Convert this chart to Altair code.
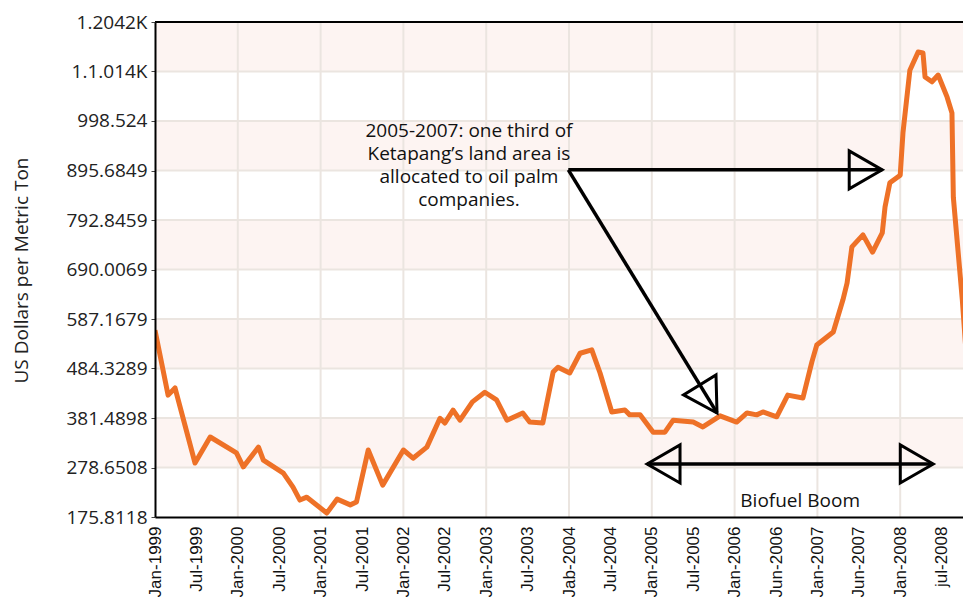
import altair as alt
import pandas as pd

# ---- data ----
months = [0, 1.9, 2.9, 5.8, 8, 11.8, 12.8, 15, 15.7, 18.6, 20, 21, 22, 24.9, 26.4, 28.3,
          29.2, 30.9, 33, 36, 37.4, 39.4, 41.3, 42, 43.2, 44.2, 46, 47.8, 49.5, 51, 53.3,
          54.3, 56.2, 57.7, 58.4, 60.1, 61.6, 63.3, 64.5, 66.2, 68.1, 68.8, 70.3, 72.2,
          73.9, 75.1, 78, 79.4, 81.9, 84.3, 85.8, 87.2, 88.1, 90.1, 91.7, 93.9, 95.2, 95.9,
          98.3, 99.7, 100.3, 101, 102.6, 104, 105.4, 105.8, 106.5, 108, 108.4, 109.4, 110.6,
          111.3, 111.6, 112.6, 113.5, 114.8, 115.5, 115.7, 117, 117.7, 118.5]
prices = [564, 429, 444, 288, 342, 309, 280, 321, 294, 267, 238, 211, 217, 184, 213, 201,
          207, 315, 242, 315, 298, 321, 381, 371, 398, 377, 415, 435, 419, 377, 392,
          373, 371, 477, 487, 475, 516, 523, 475, 394, 398, 388, 388, 352,
          352, 377, 373, 363, 386, 373, 392, 388, 394, 384, 429, 423, 498, 533,
          560, 627, 662, 737, 762, 726, 766, 820, 870, 886, 974, 1104, 1142,
          1140, 1090, 1080, 1094, 1048, 1015, 840, 627, 487, 430]

y_ticks = [175.8118, 278.6508, 381.4898, 484.3289, 587.1679, 690.0069, 792.8459,
           895.6849, 998.5240, 1101.3630, 1204.2020]
y_labels = ["175.8118", "278.6508", "381.4898", "484.3289", "587.1679", "690.0069",
            "792.8459", "895.6849", "998.524", "1.1.014K", "1.2042K"]
x_ticks = list(range(0, 115, 6))
x_labels = ["Jan-1999", "Jul-1999", "Jan-2000", "Jul-2000", "Jan-2001", "Jul-2001",
            "Jan-2002", "Jul-2002", "Jan-2003", "Jul-2003", "Jab-2004", "Jul-2004",
            "Jan-2005", "Jul-2005", "Jan-2006", "Jun-2006", "Jan-2007", "Jun-2007",
            "Jan-2008", "jul-2008"]
year_grid = [12, 24, 36, 48, 60, 72, 84, 96, 108]
band_lo = [278.6508, 484.3289, 690.0069, 895.6849, 1101.3630]
band_hi = [381.4898, 587.1679, 792.8459, 998.5240, 1204.2020]

# annotation arrows (data coordinates)
shaft_x = [59.9, 59.9, 71.3]
shaft_y = [897, 897, 286]
shaft_x2 = [105.4, 81.45, 112.75]
shaft_y2 = [897, 392, 286]
head_x = [103.0, 80.2, 73.7, 110.4]
head_y = [897, 421, 286, 286]
head_shape = ["triangle-right", "triangle-right", "triangle-left", "triangle-right"]
head_angle = [0, 58.5, 0, 0]

note_text = ["2005-2007: one third of\nKetapang\u2019s land area is\nallocated to oil palm\ncompanies.",
             "Biofuel Boom"]
note_x = [45.5, 93.5]
note_y = [977, 210]

# ---- chart ----
xs = alt.Scale(domain=[0, 117.1], nice=False, zero=False)
ys = alt.Scale(domain=[175.8118, 1204.2020], nice=False, zero=False)

ylab_expr = "[" + ",".join("'%s'" % l for l in y_labels) + "][round((datum.value - 175.8118) / 102.839)]"
xlab_expr = "[" + ",".join("'%s'" % l for l in x_labels) + "][round(datum.value / 6)]"

x_axis = alt.Axis(values=x_ticks, labelExpr=xlab_expr, labelAngle=-90,
                  labelAlign="right", labelBaseline="middle", ticks=False,
                  labelPadding=9, labelFont="Liberation Sans", labelFontSize=17,
                  labelColor="#111", domainColor="black", domainWidth=2,
                  grid=False, title=None, labelOverlap=False, labelFlush=False,
                  zindex=1)
y_axis = alt.Axis(values=y_ticks, labelExpr=ylab_expr, tickSize=4,
                  tickColor="#444", tickWidth=1, labelPadding=4,
                  labelFont="Open Sans", labelFontSize=19, labelColor="#222",
                  domainColor="black", domainWidth=2, grid=False,
                  title="US Dollars per Metric Ton", titleFont="Open Sans",
                  titleFontSize=19, titleFontWeight="normal", titleColor="#222",
                  titleX=-128, titleY=248, titleBaseline="alphabetic",
                  titleAngle=270, labelOverlap=False, labelFlush=False,
                  zindex=1)

line_df = pd.DataFrame({"m": months, "p": prices})
bands_df = pd.DataFrame({"p": band_lo, "hi": band_hi})
vgrid_df = pd.DataFrame({"m": year_grid})
hgrid_df = pd.DataFrame({"p": y_ticks[1:-1]})
top_df = pd.DataFrame({"p": [y_ticks[-1]]})
shaft_df = pd.DataFrame({"m": shaft_x, "p": shaft_y, "x2": shaft_x2, "y2": shaft_y2})
head_df = pd.DataFrame({"m": head_x, "p": head_y, "s": head_shape, "a": head_angle})
note_df = pd.DataFrame({"t": note_text, "m": note_x, "p": note_y})

X = alt.X("m:Q", scale=xs, axis=x_axis, title=None)
Y = alt.Y("p:Q", scale=ys, axis=y_axis, title="US Dollars per Metric Ton")

bands = alt.Chart(bands_df).mark_rect(color="#fdf4f2").encode(y=Y, y2="hi:Q")

vgrid = alt.Chart(vgrid_df).mark_rule(color="#ebe5e0", strokeWidth=2).encode(x=X)

hgrid = alt.Chart(hgrid_df).mark_rule(color="#ebe5e0", strokeWidth=2).encode(y=Y)

top = alt.Chart(top_df).mark_rule(color="black", strokeWidth=2).encode(y=Y)

price = alt.Chart(line_df).mark_line(color="#ee7127", strokeWidth=5, strokeJoin="round",
                                     clip=True).encode(x=X, y=Y)

shafts = alt.Chart(shaft_df).mark_rule(color="black", strokeWidth=3.5).encode(
    x=X, y=Y, x2="x2:Q", y2="y2:Q")

heads = alt.Chart(head_df).mark_point(filled=False, color="black", strokeWidth=3,
                                      size=1450, opacity=1).encode(
    x=X, y=Y, shape=alt.Shape("s:N", scale=None), angle=alt.Angle("a:Q", scale=None))

notes = alt.Chart(note_df).mark_text(font="Open Sans", fontSize=19, lineHeight=23,
                                     lineBreak="\n", align="center", baseline="middle",
                                     color="#111").encode(x=X, y=Y, text="t:N")

chart = alt.layer(bands, vgrid, hgrid, top, price, shafts, heads, notes).properties(
    width=808, height=495,
    padding={"left": 147, "top": 14, "right": 0, "bottom": 80},
    autosize=alt.AutoSizeParams(type="none"),
).configure_view(stroke=None)

chart.save("out.html", embed_options={"renderer": "svg", "actions": False})
